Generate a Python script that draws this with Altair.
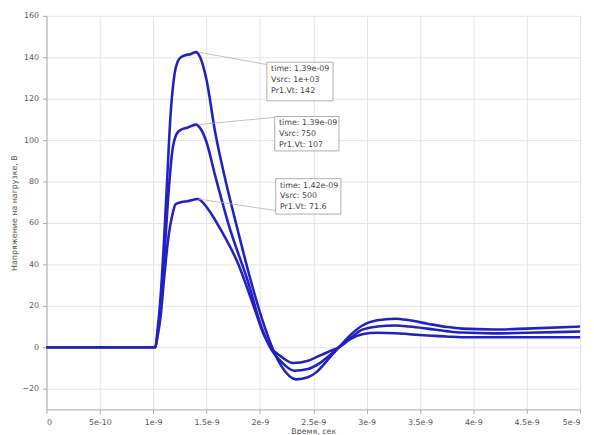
import altair as alt
import pandas as pd

# --- data (time in ns, voltage in V) ---
t_hi = [0, 1.0, 1.02, 1.04, 1.07, 1.10, 1.13, 1.16, 1.20, 1.23, 1.26, 1.30, 1.35, 1.40, 1.44, 1.50, 1.58, 1.68, 1.79, 1.91, 2.04, 2.13, 2.20, 2.34, 2.45, 2.53, 2.62, 2.74, 2.85, 2.96, 3.10, 3.27, 3.40, 3.57, 3.75, 3.89, 4.19, 4.50, 5.0]
v_hi = [0, 0, 0, 8, 25, 50, 80, 110, 132, 138, 140, 141, 141.5, 142.5, 140, 129, 104, 80, 57, 33, 10.5, -2, -9, -15.5, -14.5, -12, -7, 0, 6, 10.5, 13, 13.8, 13, 11.4, 9.8, 9, 8.6, 9, 10]

t_mid = [0, 1.0, 1.02, 1.04, 1.07, 1.10, 1.14, 1.18, 1.22, 1.26, 1.32, 1.40, 1.45, 1.50, 1.58, 1.72, 1.88, 2.02, 2.11, 2.20, 2.32, 2.45, 2.55, 2.65, 2.74, 2.85, 2.96, 3.10, 3.27, 3.40, 3.57, 3.75, 3.89, 4.19, 4.50, 5.0]
v_mid = [0, 0, 0, 6, 19, 40, 72, 95, 103, 105, 106, 107.5, 105, 99, 83, 57, 33, 9, -1.4, -7, -11.3, -10.5, -8, -4, 0, 4.5, 8.5, 10, 10.5, 10, 9, 7.8, 7.1, 6.7, 7, 7.6]

t_lo = [0, 1.0, 1.02, 1.04, 1.07, 1.10, 1.14, 1.18, 1.21, 1.26, 1.32, 1.42, 1.48, 1.55, 1.63, 1.79, 1.94, 2.04, 2.10, 2.20, 2.31, 2.45, 2.55, 2.65, 2.74, 2.85, 2.96, 3.10, 3.27, 3.40, 3.57, 3.75, 3.89, 4.19, 4.50, 5.0]
v_lo = [0, 0, 0, 5, 15, 32, 52, 64, 69, 70, 70.5, 71.6, 69, 64, 57, 41, 20, 5.7, 0, -4.5, -7.6, -6.5, -4.3, -2, 0, 4, 6.3, 7, 6.8, 6.3, 5.7, 5.2, 4.8, 4.8, 4.8, 4.8]

series_names = ["1e+03", "750", "500"]

x_tick_vals = [0, 0.5, 1, 1.5, 2, 2.5, 3, 3.5, 4, 4.5, 5]
x_tick_labels = ["0", "5e-10", "1e-9", "1.5e-9", "2e-9", "2.5e-9", "3e-9", "3.5e-9", "4e-9", "4.5e-9", "5e-9"]
y_tick_vals = [-20, 0, 20, 40, 60, 80, 100, 120, 140, 160]

# annotations: peak point, box corners (data units) and texts
ann_peak_t = [1.42, 1.42, 1.42]
ann_peak_v = [142.5, 107.5, 71.6]
ann_end_t = [2.065, 2.139, 2.148]
ann_end_v = [136.5, 111.0, 66.0]
box_t1 = [2.065, 2.139, 2.148]
box_t2 = [2.685, 2.741, 2.759]
box_v1 = [137.6, 111.4, 81.4]
box_v2 = [119.0, 94.8, 64.3]
ann_text = [
    ["time: 1.39e-09", "Vsrc: 1e+03", "Pr1.Vt: 142"],
    ["time: 1.39e-09", "Vsrc: 750", "Pr1.Vt: 107"],
    ["time: 1.42e-09", "Vsrc: 500", "Pr1.Vt: 71.6"],
]

rows = []
for name, ts, vs in zip(series_names, [t_hi, t_mid, t_lo], [v_hi, v_mid, v_lo]):
    for t, v in zip(ts, vs):
        rows.append({"s": name, "t": t, "v": v})
df = pd.DataFrame(rows)

ann = pd.DataFrame({
    "pt": ann_peak_t, "pv": ann_peak_v, "et": ann_end_t, "ev": ann_end_v,
    "bt1": box_t1, "bt2": box_t2, "bv1": box_v1, "bv2": box_v2,
    "tt": [b + 0.04 for b in box_t1],
    "txt": ann_text,
})

label_expr = "[" + ",".join("'%s'" % l for l in x_tick_labels) + "][round(datum.value*2)]"

xs = alt.Scale(domain=[0, 5], nice=False, zero=False)
ys = alt.Scale(domain=[-30, 160], nice=False, zero=False)

x_axis = alt.Axis(values=x_tick_vals, labelExpr=label_expr, title="Время, сек",
                  labelFontSize=8, titleFontSize=8, labelColor="#555", titleColor="#555",
                  titleFontWeight="normal", gridColor="#e4e4e4", domainColor="#aaa",
                  tickColor="#aaa", tickSize=4, labelPadding=5, titlePadding=1,
                  labelFont="DejaVu Sans", titleFont="DejaVu Sans")
y_axis = alt.Axis(values=y_tick_vals, title="Напряжение на нагрузке, В",
                  labelFontSize=8, titleFontSize=8, labelColor="#555", titleColor="#555",
                  titleFontWeight="normal", gridColor="#e4e4e4", domainColor="#aaa",
                  tickColor="#aaa", tickSize=4, labelPadding=4, titlePadding=3,
                  labelFont="DejaVu Sans", titleFont="DejaVu Sans")

lines = alt.Chart(df).mark_line(strokeWidth=2.6, color="#2222c4", interpolate="monotone").encode(
    x=alt.X("t:Q", scale=xs, axis=x_axis),
    y=alt.Y("v:Q", scale=ys, axis=y_axis),
    detail="s:N",
)

leaders = alt.Chart(ann).mark_rule(color="#c0a8b0", strokeWidth=0.8).encode(
    x="pt:Q", y="pv:Q", x2="et:Q", y2="ev:Q"
)

boxes = alt.Chart(ann).mark_rect(fill="white", stroke="#999", strokeWidth=0.8).encode(
    x="bt1:Q", x2="bt2:Q", y="bv1:Q", y2="bv2:Q"
)

texts = alt.Chart(ann).mark_text(align="left", baseline="top", fontSize=8, lineHeight=11,
                                 color="#444", font="DejaVu Sans", dy=3).encode(
    x="tt:Q", y="bv1:Q", text="txt"
)

chart = alt.layer(lines, leaders, boxes, texts).properties(
    width=541, height=399,
    autosize=alt.AutoSizeParams(type="none"),
    padding={"left": 39, "top": 5, "right": 6, "bottom": 25},
).configure_view(stroke=None)

chart.save("out.html", embed_options={"renderer": "svg", "actions": False})
